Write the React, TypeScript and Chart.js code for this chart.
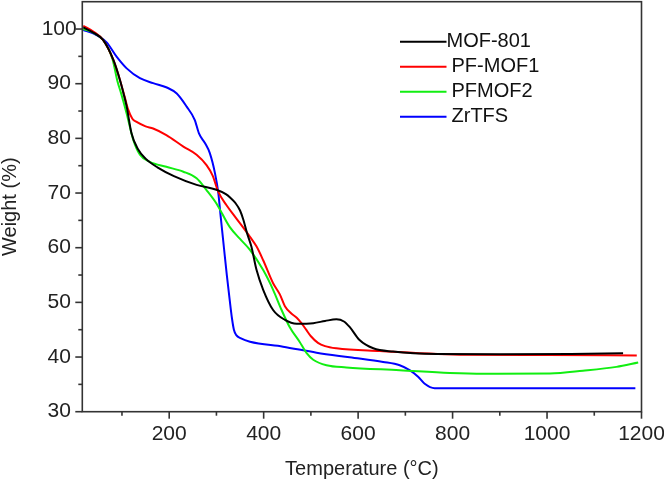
import React, { useEffect, useRef } from 'react';
import { Chart, registerables } from 'chart.js';

Chart.register(...registerables);

const FONT = "'Liberation Sans', Arial, Helvetica, sans-serif";
const AXIS_COLOR = '#333333';
const TEXT_COLOR = '#222222';

const SERIES_NAMES = ['MOF-801', 'PF-MOF1', 'PFMOF2', 'ZrTFS'];
const SERIES_COLORS = ['#000000', '#ff0000', '#11ee11', '#0000ff'];

const X_TICKS = [200, 400, 600, 800, 1000, 1200];
const X_MINOR = [100, 300, 500, 700, 900, 1100];
const Y_TICKS = [30, 40, 50, 60, 70, 80, 90, 100];
const Y_MINOR = [35, 45, 55, 65, 75, 85, 95];

// MOF-801 (black)
const MOF801_T = [18, 40, 60, 82, 96, 104, 110, 120, 134, 150, 175, 210, 258, 300, 320, 330, 340, 350, 357, 365, 374, 385, 399, 420, 445, 470, 505, 530, 554, 570, 582, 603, 632, 674, 766, 900, 1050, 1161];
const MOF801_W = [100.3, 99.3, 98.0, 94.3, 90.6, 88.0, 85.8, 81.0, 78.0, 76.3, 74.7, 73.1, 71.5, 70.6, 69.8, 69.1, 68.2, 66.8, 65.1, 62.6, 60.2, 55.9, 52.3, 48.6, 46.8, 46.1, 46.2, 46.6, 46.9, 46.5, 45.5, 43.1, 41.6, 41.0, 40.55, 40.5, 40.55, 40.7];

// PF-MOF1 (red)
const PFMOF1_T = [18, 40, 60, 82, 96, 106, 113, 122, 131, 150, 166, 194, 230, 258, 279, 292, 304, 321, 340, 371, 385, 399, 420, 434, 445, 458, 470, 480, 490, 500, 515, 530, 554, 646, 829, 1000, 1190];
const PFMOF1_W = [100.6, 99.5, 98.0, 94.3, 90.6, 87.5, 85.3, 83.6, 83.0, 82.2, 81.8, 80.6, 78.5, 77.0, 75.1, 73.2, 70.2, 67.8, 65.6, 62.0, 60.2, 57.7, 53.5, 51.5, 49.3, 48.0, 47.2, 46.2, 45.0, 43.8, 42.6, 42.0, 41.6, 41.1, 40.4, 40.35, 40.3];

// PFMOF2 (green)
const PFMOF2_T = [18, 40, 60, 80, 90, 99, 110, 124, 138, 159, 194, 230, 258, 279, 300, 328, 350, 371, 399, 420, 438, 455, 476, 491, 505, 533, 575, 688, 794, 865, 1006, 1076, 1147, 1193];
const PFMOF2_W = [100.0, 99.3, 98.0, 94.5, 90.6, 88.0, 84.5, 79.7, 77.0, 75.7, 74.8, 73.9, 72.7, 70.55, 68.1, 63.8, 61.6, 59.6, 55.9, 52.3, 48.6, 45.5, 42.8, 40.7, 39.5, 38.5, 38.1, 37.6, 37.1, 36.95, 37.0, 37.5, 38.2, 39.0];

// ZrTFS (blue)
const ZRTFS_T = [18, 39, 67, 89, 110, 138, 166, 195, 216, 237, 254, 263, 276, 286, 297, 304, 309, 316, 322, 328, 333, 337, 342, 352, 371, 441, 512, 582, 653, 688, 709, 727, 741, 762, 1187];
const ZRTFS_W = [99.8, 99.2, 97.6, 94.9, 92.8, 91.0, 90.1, 89.3, 88.2, 85.8, 83.4, 80.9, 79.1, 77.3, 73.6, 70.0, 65.7, 59.9, 55.0, 50.5, 47.0, 45.0, 44.0, 43.4, 42.8, 41.9, 40.8, 39.95, 39.1, 38.5, 37.6, 36.4, 35.1, 34.3, 34.3];

const SERIES_T = [MOF801_T, PFMOF1_T, PFMOF2_T, ZRTFS_T];
const SERIES_W = [MOF801_W, PFMOF1_W, PFMOF2_W, ZRTFS_W];

const frameAndTicks = {
  id: 'frameAndTicks',
  afterDraw(chart: any) {
    const { ctx, chartArea } = chart;
    const { left, right, top, bottom } = chartArea;
    const xs = chart.scales.x;
    const ys = chart.scales.y;
    ctx.save();
    ctx.strokeStyle = AXIS_COLOR;
    ctx.lineWidth = 1.6;
    ctx.strokeRect(left, top, right - left, bottom - top);
    const seg = (x1: number, y1: number, x2: number, y2: number) => {
      ctx.beginPath();
      ctx.moveTo(x1, y1);
      ctx.lineTo(x2, y2);
      ctx.stroke();
    };
    X_TICKS.forEach((v) => { const p = xs.getPixelForValue(v); seg(p, bottom, p, bottom + 7); });
    X_MINOR.forEach((v) => { const p = xs.getPixelForValue(v); seg(p, bottom, p, bottom + 4); });
    Y_TICKS.forEach((v) => { const p = ys.getPixelForValue(v); seg(left, p, left - 7, p); });
    Y_MINOR.forEach((v) => { const p = ys.getPixelForValue(v); seg(left, p, left - 4, p); });
    ctx.restore();
  },
};

const legendPlugin = {
  id: 'insideLegend',
  afterDraw(chart: any) {
    const { ctx } = chart;
    ctx.save();
    ctx.font = `20px ${FONT}`;
    ctx.textBaseline = 'middle';
    ctx.textAlign = 'left';
    chart.data.datasets.forEach((ds: any, i: number) => {
      const y = 41.7 + i * 25;
      ctx.strokeStyle = ds.borderColor;
      ctx.lineWidth = 2;
      ctx.beginPath();
      ctx.moveTo(400, y);
      ctx.lineTo(446.5, y);
      ctx.stroke();
      ctx.fillStyle = '#111111';
      ctx.fillText(ds.label, i === 0 ? 446.5 : 451.5, y);
    });
    ctx.restore();
  },
};

export default function App() {
  const canvasRef = useRef<HTMLCanvasElement | null>(null);

  useEffect(() => {
    if (!canvasRef.current) return;
    const datasets = SERIES_NAMES.map((name, i) => ({
      label: name,
      data: SERIES_T[i].map((t, j) => ({ x: t, y: SERIES_W[i][j] })),
      borderColor: SERIES_COLORS[i],
      backgroundColor: SERIES_COLORS[i],
      borderWidth: 2,
      pointRadius: 0,
      fill: false,
      cubicInterpolationMode: 'monotone' as const,
    }));

    const chart = new Chart(canvasRef.current, {
      type: 'line',
      data: { datasets },
      plugins: [frameAndTicks, legendPlugin],
      options: {
        responsive: false,
        animation: false,
        events: [],
        layout: { padding: { left: 0, top: 1.7, right: 22.5, bottom: 0 } },
        plugins: {
          legend: { display: false },
          tooltip: { enabled: false },
          title: { display: false },
        },
        scales: {
          x: {
            type: 'linear',
            min: 16,
            max: 1200,
            afterBuildTicks: (s: any) => { s.ticks = X_TICKS.map((v) => ({ value: v })); },
            afterFit: (s: any) => { s.height = 69.3; s.paddingLeft = 0; s.paddingRight = 0; },
            grid: { display: false, drawTicks: false },
            border: { display: false },
            ticks: {
              autoSkip: false,
              maxRotation: 0,
              padding: 10,
              color: TEXT_COLOR,
              font: { family: FONT, size: 21 },
              callback: (v: any) => String(v),
            },
            title: {
              display: true,
              text: 'Temperature (°C)',
              color: TEXT_COLOR,
              font: { family: FONT, size: 20, lineHeight: 1.2 },
              padding: { top: 0, bottom: 0 },
            },
          },
          y: {
            type: 'linear',
            min: 30,
            max: 105,
            afterBuildTicks: (s: any) => { s.ticks = Y_TICKS.map((v) => ({ value: v })); },
            afterFit: (s: any) => { s.width = 82.3; s.paddingTop = 0; s.paddingBottom = 0; },
            grid: { display: false, drawTicks: false },
            border: { display: false },
            ticks: {
              crossAlign: 'center',
              padding: 5.6,
              color: TEXT_COLOR,
              font: { family: FONT, size: 21 },
              callback: (v: any) => String(v),
            },
            title: {
              display: true,
              text: 'Weight (%)',
              color: TEXT_COLOR,
              font: { family: FONT, size: 20, lineHeight: 1 },
              padding: { top: 0, bottom: 0 },
            },
          },
        },
      },
    });
    return () => chart.destroy();
  }, []);

  return (
    <div style={{ position: 'fixed', left: 0, top: 0, width: 664, height: 481, background: '#ffffff' }}>
      <canvas ref={canvasRef} width={664} height={481} style={{ display: 'block', width: 664, height: 481 }} />
    </div>
  );
}
